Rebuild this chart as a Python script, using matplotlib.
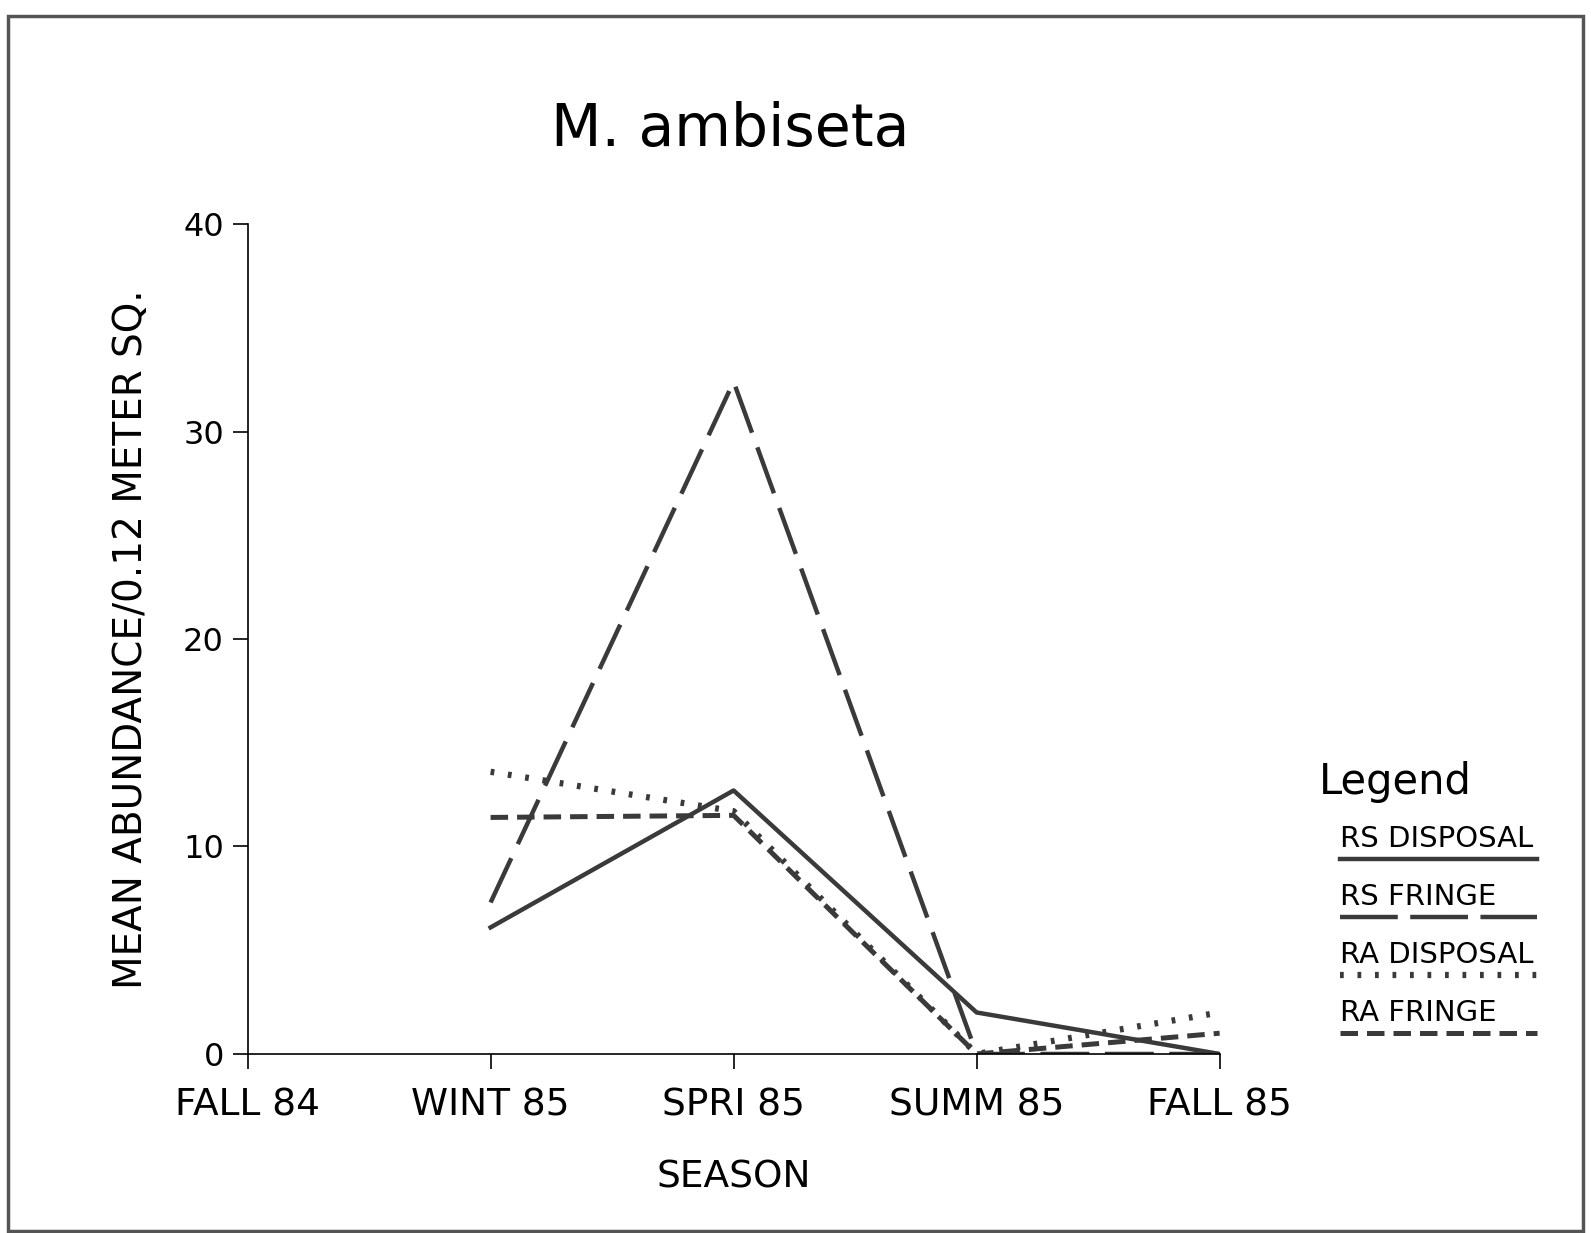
import matplotlib.pyplot as plt
from matplotlib.lines import Line2D
from matplotlib.patches import Rectangle

# data
seasons = ['FALL 84', 'WINT 85', 'SPRI 85', 'SUMM 85', 'FALL 85']
season_idx = [1, 2, 3, 4]  # series start at WINT 85
rs_disposal = [6.1, 12.7, 2.0, 0.0]
rs_fringe = [7.3, 32.4, 0.0, 0.0]
ra_disposal = [13.6, 11.7, 0.0, 2.0]
ra_fringe = [11.4, 11.5, 0.0, 1.0]
legend_names = ['RS DISPOSAL', 'RS FRINGE', 'RA DISPOSAL', 'RA FRINGE']

plt.rcParams['font.family'] = ['DejaVu Sans']

fig = plt.figure(figsize=(15.91, 12.33), dpi=100)
ax = fig.add_axes([0.1556, 0.1452, 0.6110, 0.6731])

line_col = '#3a3a3a'
styles = [
    dict(linestyle='-', linewidth=3.2),
    dict(linestyle=(0, (11, 3.5)), linewidth=3.2),
    dict(linestyle=(0, (0.6, 2.2)), linewidth=4.5),
    dict(linestyle=(0, (3.5, 1.8)), linewidth=3.6),
]
series = [rs_disposal, rs_fringe, ra_disposal, ra_fringe]
for vals, st in zip(series, styles):
    ax.plot(season_idx, vals, color=line_col, **st)

ax.set_xlim(0, 4)
ax.set_ylim(0, 40)
ax.set_xticks(range(len(seasons)))
ax.set_xticklabels(seasons, fontsize=27)
ax.set_yticks([0, 10, 20, 30, 40])
ax.tick_params(axis='y', labelsize=23, length=11, width=1.2, pad=6)
ax.tick_params(axis='x', length=11, width=1.2, pad=13)
for s in ['top', 'right']:
    ax.spines[s].set_visible(False)
for s in ['left', 'bottom']:
    ax.spines[s].set_linewidth(1.2)

ax.set_ylabel('MEAN ABUNDANCE/0.12 METER SQ.', fontsize=28, labelpad=24)
ax.set_xlabel('SEASON', fontsize=27, labelpad=26)

fig.text(0.459, 0.895, 'M. ambiseta', fontsize=42, ha='center', va='center')

# legend drawn by hand, text with a sample line under it
legend_styles = list(styles)
legend_styles[1] = dict(linestyle=(0, (13, 2.8)), linewidth=3.2)  # 3 whole dashes
fig.text(0.829, 0.366, 'Legend', fontsize=30, ha='left', va='center')
for i, (name, st) in enumerate(zip(legend_names, legend_styles)):
    y = 0.3195 - i * 0.0469
    fig.text(0.842, y, name, fontsize=21, ha='left', va='center')
    fig.add_artist(Line2D([0.842, 0.966], [y - 0.0165, y - 0.0165],
                          transform=fig.transFigure, color=line_col, **st))

# outer frame of the scanned page
fig.add_artist(Rectangle((0.005, 0.002), 0.990, 0.985, transform=fig.transFigure,
                         fill=False, edgecolor='#555555', linewidth=2.5))

fig.savefig('out.png', dpi=100)
